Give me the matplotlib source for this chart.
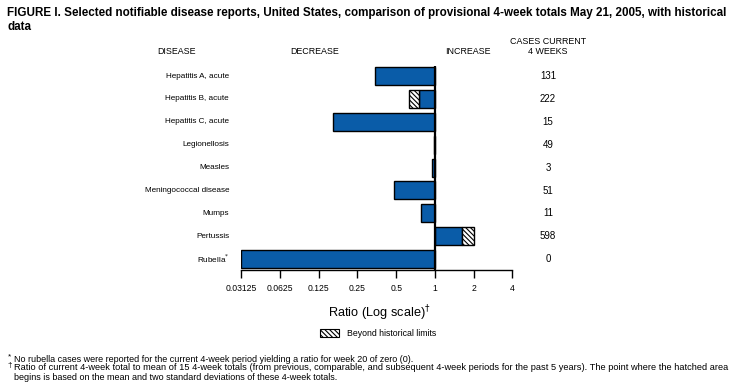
import numpy as np
import matplotlib
matplotlib.use("Agg")
import matplotlib.pyplot as plt
from matplotlib.patches import Rectangle

plt.rcParams['font.family'] = ['Liberation Sans', 'DejaVu Sans']
plt.rcParams['hatch.linewidth'] = 0.8

# Data
diseases = ["Hepatitis A, acute", "Hepatitis B, acute", "Hepatitis C, acute",
            "Legionellosis", "Measles", "Meningococcal disease", "Mumps",
            "Pertussis", "Rubella"]
ratios = [0.34, 0.63, 0.16, 0.985, 0.95, 0.48, 0.78, 2.0, 0.03125]
# point where the hatched area begins (nan = not beyond historical limits)
limits = [np.nan, 0.75, np.nan, np.nan, np.nan, np.nan, np.nan, 1.63, np.nan]
cases = [131, 222, 15, 49, 3, 51, 11, 598, 0]
ticks = [0.03125, 0.0625, 0.125, 0.25, 0.5, 1, 2, 4]
tick_labels = ["0.03125", "0.0625", "0.125", "0.25", "0.5", "1", "2", "4"]

blue = "#0a5ca8"
hatch = "\\" * 7

fig = plt.figure(figsize=(7.38, 3.91), dpi=100)
ax = fig.add_axes([241.3 / 738, 1 - 270 / 391, (512.4 - 241.3) / 738, (270 - 66) / 391])

ypos = np.arange(len(diseases))
for y, r, lim in zip(ypos, ratios, limits):
    if np.isnan(lim):
        ax.barh(y, 1 - r, left=r, height=0.79, color=blue, edgecolor="black", linewidth=1)
    else:
        # solid part up to the limit, hatched part beyond it
        ax.barh(y, 1 - lim, left=lim, height=0.79, color=blue, edgecolor="black", linewidth=1)
        ax.barh(y, lim - r, left=r, height=0.79, color="white", edgecolor="black",
                linewidth=1, hatch=hatch)

ax.set_xscale("log", base=2)
ax.set_xlim(0.03125, 4)
ax.set_ylim(len(diseases) - 0.52, -0.44)
ax.axvline(1, color="black", linewidth=1.6, zorder=5)

ax.set_xticks(ticks)
ax.set_xticklabels(tick_labels)
ax.xaxis.set_minor_locator(matplotlib.ticker.NullLocator())
ax.tick_params(axis="x", labelsize=6.2, length=6, width=1, direction="out", pad=4)
ax.set_yticks([])
for s in ["left", "right", "top"]:
    ax.spines[s].set_visible(False)
ax.spines["bottom"].set_linewidth(1)

# disease names and case counts
for y, name, c in zip(ypos, diseases, cases):
    label = name + r"$^{*}$" if name == "Rubella" else name
    fig.text(229 / 738, 1 - (76 + y * 22.9) / 391, label, ha="right", va="center", fontsize=5.9)
    fig.text(548 / 738, 1 - (76 + y * 22.9) / 391, str(c), ha="center", va="center", fontsize=7)

# column headers
fig.text(177 / 738, 1 - 52 / 391, "DISEASE", ha="center", va="center", fontsize=6.4)
fig.text(315 / 738, 1 - 52 / 391, "DECREASE", ha="center", va="center", fontsize=6.4)
fig.text(468 / 738, 1 - 52 / 391, "INCREASE", ha="center", va="center", fontsize=6.4)
fig.text(548 / 738, 1 - 41 / 391, "CASES CURRENT", ha="center", va="center", fontsize=6.4)
fig.text(548 / 738, 1 - 52 / 391, "4 WEEKS", ha="center", va="center", fontsize=6.4)

# title
fig.text(7 / 738, 1 - 13 / 391,
         "FIGURE I. Selected notifiable disease reports, United States, comparison of provisional 4-week totals May 21, 2005, with historical",
         ha="left", va="center", fontsize=8.4, fontweight="bold")
fig.text(7 / 738, 1 - 27 / 391, "data", ha="left", va="center", fontsize=8.4, fontweight="bold")

# axis label
fig.text(379 / 738, 1 - 313 / 391, "Ratio (Log scale)$^{\u2020}$", ha="center", va="center", fontsize=9.2)

# legend
fig.patches.append(Rectangle((320 / 738, 1 - 337 / 391), 19 / 738, 8 / 391, transform=fig.transFigure,
                             facecolor="white", edgecolor="black", linewidth=0.8, hatch=hatch))
fig.text(347 / 738, 1 - 333 / 391, "Beyond historical limits", ha="left", va="center", fontsize=6.3)

# footnotes
fig.text(8 / 738, 1 - 357 / 391, "*", ha="left", va="center", fontsize=6)
fig.text(14 / 738, 1 - 360 / 391,
         "No rubella cases were reported for the current 4-week period yielding a ratio for week 20 of zero (0).",
         ha="left", va="center", fontsize=6.5)
fig.text(7.5 / 738, 1 - 366 / 391, "\u2020", ha="left", va="center", fontsize=6)
fig.text(14 / 738, 1 - 368 / 391,
         "Ratio of current 4-week total to mean of 15 4-week totals (from previous, comparable, and subsequent 4-week periods for the past 5 years). The point where the hatched area",
         ha="left", va="center", fontsize=6.7)
fig.text(14 / 738, 1 - 377 / 391,
         "begins is based on the mean and two standard deviations of these 4-week totals.",
         ha="left", va="center", fontsize=6.5)

fig.savefig("out.png", dpi=100)
